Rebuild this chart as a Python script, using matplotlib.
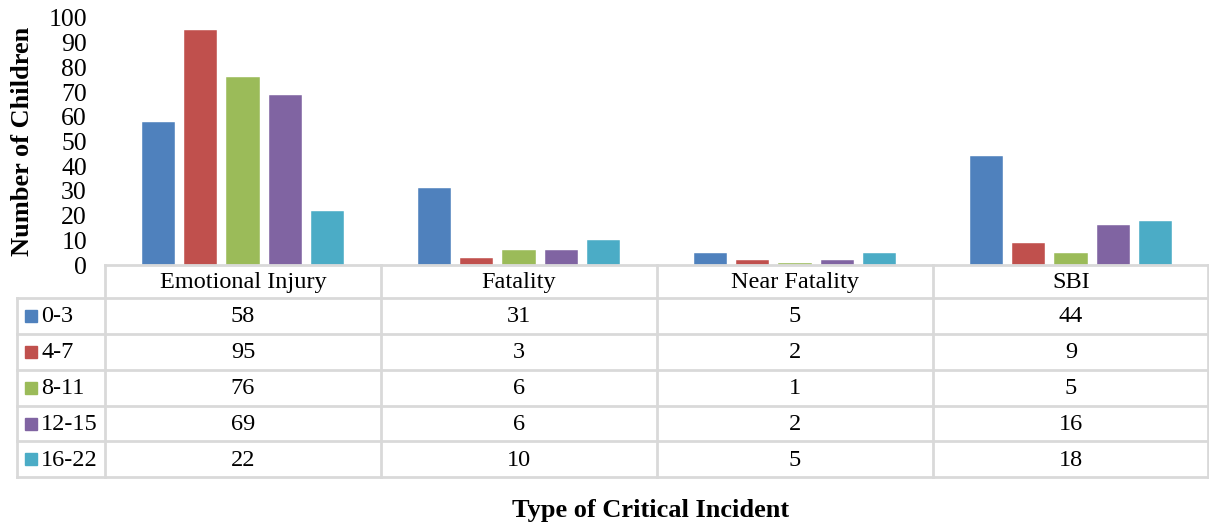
import matplotlib.pyplot as plt
import numpy as np

plt.rcParams['font.family'] = ['Liberation Serif', 'DejaVu Serif']

# data
incidents = ["Emotional Injury", "Fatality", "Near Fatality", "SBI"]
age_groups = ["0-3", "4-7", "8-11", "12-15", "16-22"]
vals_0_3 = [58, 31, 5, 44]
vals_4_7 = [95, 3, 2, 9]
vals_8_11 = [76, 6, 1, 5]
vals_12_15 = [69, 6, 2, 16]
vals_16_22 = [22, 10, 5, 18]
series = [vals_0_3, vals_4_7, vals_8_11, vals_12_15, vals_16_22]
colors = ["#4F81BD", "#C0504D", "#9BBB59", "#8064A2", "#4BACC6"]

W, H = 1209, 525
fig = plt.figure(figsize=(W / 100, H / 100), dpi=100)

# pixel layout
x_left, x_right = 105, 1209
y_zero, y_top = 265, 18
fig_x = lambda px: px / W
fig_y = lambda py: (H - py) / H

ax = fig.add_axes([fig_x(x_left), fig_y(y_zero), fig_x(x_right) - fig_x(x_left),
                   fig_y(y_top) - fig_y(y_zero)])
n = len(incidents)
step = 0.1536
width = 0.12
x = np.arange(n) + 0.5
for i, (vals, c) in enumerate(zip(series, colors)):
    ax.bar(x + (i - 2) * step, vals, width, color=c, edgecolor="white", linewidth=0.3)
ax.set_xlim(0, n)
ax.set_ylim(0, 100)
ax.set_yticks(range(0, 101, 10))
ax.tick_params(axis="y", length=0, labelsize=18.5, pad=13)
ax.set_xticks([])
for s in ax.spines.values():
    s.set_visible(False)
ax.set_ylabel("Number of Children", fontsize=19, fontweight="bold", labelpad=10)

# data table drawn in pixel coordinates
tb = fig.add_axes([0, 0, 1, 1], facecolor="none")
tb.set_xlim(0, W)
tb.set_ylim(H, 0)
tb.axis("off")
grid = "#D9D9D9"
col_w = (x_right - x_left) / n
col_edges = [x_left + i * col_w for i in range(n + 1)]
row_edges = [265, 298, 334, 370, 406, 441, 477]
tb_left = 17

tb.plot([x_left, x_right], [row_edges[0]] * 2, color=grid, lw=2)
for ry in row_edges[1:]:
    tb.plot([tb_left, x_right], [ry, ry], color=grid, lw=2)
tb.plot([tb_left, tb_left], [row_edges[1], row_edges[-1]], color=grid, lw=2)
for cx in col_edges:
    cx = min(cx, W - 1)
    tb.plot([cx, cx], [row_edges[0], row_edges[-1]], color=grid, lw=2)

fs = 17.5
for j, name in enumerate(incidents):
    cx = (col_edges[j] + col_edges[j + 1]) / 2
    tb.text(cx, (row_edges[0] + row_edges[1]) / 2 + 1, name, ha="center", va="center", fontsize=fs)
    for i, vals in enumerate(series):
        cy = (row_edges[i + 1] + row_edges[i + 2]) / 2 + 1
        tb.text(cx, cy, str(vals[j]), ha="center", va="center", fontsize=fs)

for i, (lab, c) in enumerate(zip(age_groups, colors)):
    cy = (row_edges[i + 1] + row_edges[i + 2]) / 2
    tb.add_patch(plt.Rectangle((25, cy - 6), 12, 12, color=c))
    tb.text(41, cy + 1, lab, ha="left", va="center", fontsize=fs)

tb.text(651, 510, "Type of Critical Incident", ha="center", va="center",
        fontsize=19, fontweight="bold")

fig.savefig("out.png", dpi=100)
